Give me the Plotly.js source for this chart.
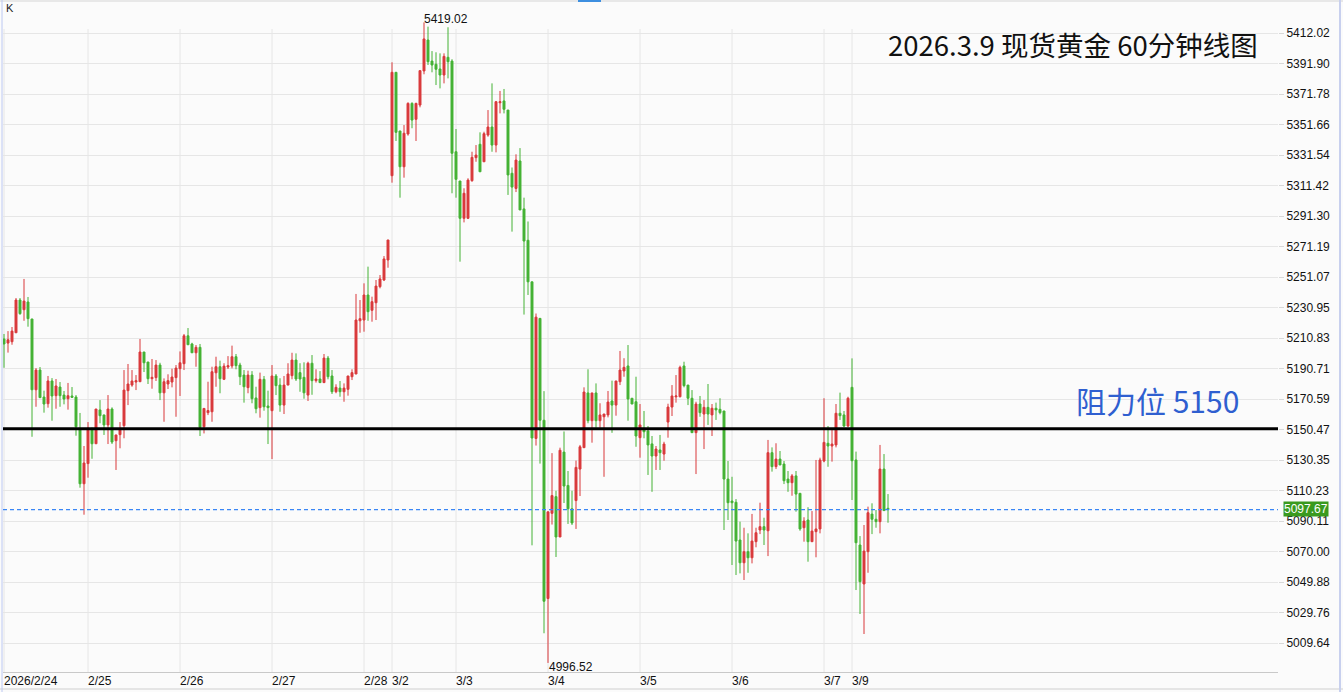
<!DOCTYPE html>
<html><head><meta charset="utf-8">
<script src="https://cdn.plot.ly/plotly-3.0.1.min.js"></script>
<style>html,body{margin:0;padding:0;background:#fbfbfb;}#chart{width:1343px;height:692px;}</style>
</head><body><div id="chart"></div>
<script>
// Hourly candles, 2026/2/24 – 2026/3/9
const openP = [5210.2,5207.5,5208.4,5214.3,5235.9,5229.5,5234.6,5223.4,5176.7,5189.7,5171.9,5167.5,5182.5,5172.8,5178.5,5173.2,5170.8,5172.6,5171.9,5150.2,5114.7,5128.0,5151.3,5141.1,5163.4,5160.1,5153.5,5164.0,5143.1,5147.1,5153.0,5176.1,5179.8,5181.8,5182.0,5201.6,5195.0,5184.0,5184.7,5193.0,5174.7,5180.5,5181.8,5184.7,5190.6,5193.9,5212.3,5206.9,5201.1,5204.7,5152.3,5161.6,5162.2,5187.9,5191.9,5183.6,5191.7,5192.4,5198.5,5193.0,5186.4,5178.1,5186.4,5171.3,5164.9,5183.6,5166.0,5162.9,5185.8,5179.8,5166.6,5179.8,5186.0,5196.3,5188.0,5184.9,5173.2,5194.2,5182.7,5183.8,5181.4,5197.6,5185.8,5175.4,5177.8,5175.4,5177.0,5185.3,5187.1,5222.2,5222.7,5239.2,5229.1,5234.1,5244.7,5249.1,5262.3,5317.9,5386.1,5347.4,5323.8,5345.4,5365.6,5355.1,5364.5,5387.0,5407.4,5393.5,5391.4,5388.3,5384.3,5396.0,5393.5,5333.7,5314.4,5289.8,5289.8,5314.6,5329.8,5338.6,5327.1,5344.7,5350.0,5338.1,5366.0,5367.2,5361.2,5319.5,5309.5,5327.6,5296.0,5275.3,5247.9,5144.6,5223.8,5156.6,5039.0,5095.2,5106.2,5079.6,5135.6,5113.6,5098.2,5103.6,5124.4,5138.5,5174.6,5156.3,5174.6,5156.3,5158.9,5160.1,5169.3,5166.6,5182.0,5189.1,5192.4,5171.1,5168.8,5145.1,5150.6,5149.5,5141.0,5133.0,5137.0,5134.3,5155.4,5165.3,5172.0,5172.1,5192.4,5179.8,5171.1,5148.4,5167.3,5160.7,5165.1,5160.1,5164.5,5163.8,5162.7,5117.8,5103.3,5102.5,5077.6,5062.6,5069.9,5065.9,5076.5,5084.2,5086.4,5083.7,5135.2,5126.0,5131.0,5127.7,5117.8,5115.4,5119.9,5108.4,5085.7,5090.8,5076.5,5083.1,5084.9,5129.7,5141.4,5139.6,5140.3,5161.2,5160.1,5152.8,5178.3,5130.4,5074.3,5048.6,5069.9,5094.7,5091.3,5089.7,5124.4,5098.5];
const highP = [5213.5,5215.4,5218.1,5237.2,5237.2,5249.8,5237.9,5223.4,5191.0,5191.7,5176.1,5185.8,5184.4,5183.8,5181.8,5175.9,5181.2,5178.5,5173.2,5161.4,5139.6,5155.4,5151.3,5164.0,5169.9,5160.1,5173.2,5165.1,5146.9,5155.4,5189.7,5193.7,5189.7,5186.4,5210.2,5201.6,5195.0,5197.0,5196.3,5194.5,5184.2,5186.9,5190.6,5193.0,5202.0,5213.5,5217.4,5207.7,5206.2,5206.9,5164.4,5182.0,5191.9,5198.5,5195.9,5194.2,5198.9,5205.8,5200.3,5194.5,5189.7,5189.3,5189.0,5178.7,5188.0,5185.8,5176.1,5193.0,5187.1,5184.3,5185.8,5194.2,5201.1,5200.7,5194.2,5194.8,5195.2,5199.6,5190.2,5189.0,5200.3,5199.0,5189.7,5180.3,5182.5,5180.9,5185.8,5190.2,5239.9,5235.9,5246.9,5257.9,5238.1,5249.1,5252.4,5264.9,5275.5,5392.7,5386.1,5347.4,5351.3,5366.3,5366.3,5366.0,5387.2,5419.02,5416.2,5400.1,5399.3,5398.6,5398.6,5415.8,5394.7,5348.7,5314.4,5309.6,5316.2,5333.7,5338.1,5346.5,5346.9,5361.2,5378.8,5367.2,5373.8,5375.1,5361.2,5323.3,5332.0,5336.1,5303.4,5287.7,5247.9,5227.0,5223.8,5175.8,5096.2,5134.9,5110.1,5138.5,5149.2,5123.1,5110.1,5130.0,5140.3,5178.3,5190.2,5174.6,5180.9,5167.8,5160.7,5175.9,5182.7,5182.5,5202.3,5197.5,5206.2,5171.1,5185.3,5167.3,5162.7,5152.8,5146.2,5139.6,5146.9,5142.4,5167.5,5179.8,5186.4,5192.6,5195.2,5179.8,5176.5,5168.8,5172.6,5169.9,5180.5,5167.3,5168.2,5171.1,5162.7,5129.7,5119.3,5104.6,5089.7,5085.7,5082.0,5094.8,5085.7,5102.2,5092.3,5143.6,5138.7,5141.4,5136.3,5129.7,5123.1,5121.1,5123.1,5108.4,5092.6,5099.2,5096.7,5130.4,5131.9,5171.1,5152.8,5151.0,5167.3,5174.8,5162.7,5172.1,5197.4,5135.9,5080.2,5087.5,5099.6,5101.8,5097.4,5140.3,5134.3,5107.9];
const lowP = [5191.2,5201.2,5206.4,5214.3,5226.2,5222.2,5218.3,5145.7,5165.5,5171.5,5161.6,5164.9,5156.3,5164.2,5165.5,5167.1,5163.6,5171.3,5146.4,5112.1,5094.3,5118.7,5131.2,5141.1,5154.6,5146.9,5140.9,5140.9,5123.8,5138.1,5144.7,5166.6,5178.7,5176.5,5182.0,5188.4,5180.5,5177.4,5182.5,5169.9,5155.6,5177.2,5178.3,5158.9,5172.6,5189.7,5206.4,5201.1,5191.9,5146.2,5147.9,5160.0,5155.6,5178.7,5174.4,5183.1,5190.4,5190.8,5190.2,5179.8,5168.2,5174.4,5167.8,5161.2,5158.3,5162.9,5140.9,5131.0,5173.2,5162.2,5160.7,5179.8,5183.6,5182.5,5175.4,5170.8,5169.3,5173.4,5181.4,5181.4,5181.4,5183.6,5173.9,5174.4,5172.1,5168.8,5172.8,5183.1,5187.1,5214.3,5215.0,5222.2,5221.6,5222.7,5243.6,5248.4,5257.2,5313.3,5340.8,5303.4,5316.6,5344.3,5349.2,5340.8,5363.0,5384.8,5390.9,5386.1,5377.7,5375.5,5378.8,5382.1,5306.3,5303.4,5261.2,5287.1,5289.3,5313.9,5327.1,5320.5,5327.1,5343.6,5333.7,5333.3,5359.0,5359.0,5305.2,5281.0,5307.1,5295.3,5226.3,5239.2,5074.1,5139.9,5128.0,5016.1,4996.52,5087.8,5066.4,5079.6,5102.0,5088.2,5087.5,5084.9,5106.6,5138.5,5154.6,5141.8,5151.7,5151.7,5119.3,5158.5,5148.3,5159.6,5179.8,5185.3,5156.3,5167.3,5139.1,5131.9,5144.7,5120.5,5109.4,5123.8,5123.8,5129.9,5145.1,5159.4,5168.2,5171.7,5178.3,5166.6,5148.4,5121.1,5158.9,5137.6,5153.5,5146.2,5156.8,5160.5,5084.2,5090.8,5061.1,5054.5,5055.6,5051.2,5056.0,5062.2,5072.8,5081.5,5074.3,5067.0,5122.7,5124.4,5127.1,5114.5,5109.4,5106.8,5096.3,5083.7,5076.5,5063.3,5076.5,5066.2,5082.0,5128.9,5125.9,5129.3,5138.7,5156.8,5152.0,5152.0,5104.0,5044.6,5028.8,5015.6,5056.0,5081.5,5085.7,5082.0,5097.0,5089.0];
const closeP = [5206.9,5209.7,5215.4,5235.9,5226.9,5235.2,5223.6,5176.7,5189.7,5171.5,5167.3,5182.5,5172.6,5179.2,5172.8,5170.6,5172.8,5171.7,5152.3,5114.7,5128.4,5151.3,5141.1,5164.0,5159.6,5153.5,5164.0,5142.2,5146.9,5150.2,5176.5,5180.5,5182.5,5182.7,5201.6,5194.5,5184.0,5184.9,5193.0,5174.7,5182.0,5182.7,5185.1,5191.0,5194.5,5212.3,5206.4,5201.1,5204.7,5151.9,5164.4,5163.0,5188.6,5191.9,5184.0,5192.3,5192.6,5198.5,5192.6,5185.3,5178.7,5186.4,5170.8,5164.2,5183.6,5165.5,5164.9,5185.8,5179.4,5166.6,5179.8,5187.1,5196.3,5183.8,5183.8,5174.7,5194.2,5182.7,5183.8,5181.4,5197.6,5185.3,5175.4,5178.3,5175.4,5177.8,5185.8,5188.0,5222.7,5223.6,5239.2,5228.2,5234.8,5245.1,5249.8,5263.0,5275.5,5386.1,5346.5,5323.8,5345.9,5365.6,5354.6,5365.6,5387.2,5408.1,5393.1,5390.9,5388.1,5384.3,5396.6,5393.1,5332.7,5315.5,5289.8,5306.3,5315.0,5330.0,5331.5,5320.5,5345.6,5350.0,5338.1,5366.7,5366.7,5361.7,5318.4,5310.4,5328.2,5295.3,5274.8,5247.9,5144.9,5224.6,5156.6,5037.2,5096.2,5106.9,5079.6,5136.8,5113.2,5098.2,5088.8,5125.5,5139.1,5175.2,5156.3,5174.6,5156.3,5160.1,5160.7,5168.6,5166.6,5182.5,5189.7,5191.5,5170.6,5167.3,5146.2,5153.5,5149.0,5140.3,5133.0,5137.6,5135.2,5140.9,5165.3,5172.6,5172.6,5191.5,5179.4,5171.1,5148.4,5167.3,5161.6,5165.1,5160.7,5164.5,5163.4,5161.6,5117.8,5102.2,5102.2,5076.9,5062.6,5069.9,5065.9,5076.9,5082.4,5086.4,5084.2,5135.2,5126.0,5131.0,5127.1,5116.7,5115.4,5119.9,5107.9,5084.9,5090.1,5076.5,5083.5,5084.9,5130.4,5142.0,5139.6,5140.9,5161.2,5159.6,5152.8,5171.1,5129.9,5075.8,5050.1,5070.3,5095.6,5091.3,5089.7,5124.4,5097.0,5097.67];

const dayLabels = ['2026/2/24','2/25','2/26','2/27','2/28','3/2','3/3','3/4','3/5','3/6','3/7','3/9'];
const dayStart = [0,21,44,67,90,97,113,136,159,182,205,212];
const yTickVals = [5412.02,5391.90,5371.78,5351.66,5331.54,5311.42,5291.30,5271.19,5251.07,5230.95,5210.83,5190.71,5170.59,5150.47,5130.35,5110.23,5090.11,5070.00,5049.88,5029.76,5009.64];
const resistance = 5151;
const lastPrice = 5097.67;
const maxLabel = {idx:105, value:5419.02};
const minLabel = {idx:136, value:4996.52};
const titleText = '2026.3.9 现货黄金 60分钟线图';
const resistText = '阻力位 5150';

const xIdx = openP.map((_, i) => i);
const RED = '#d9393b', GREEN = '#44b234';

const trace = {
  type: 'candlestick', x: xIdx, open: openP, high: highP, low: lowP, close: closeP,
  increasing: {line: {color: RED, width: 1}, fillcolor: RED},
  decreasing: {line: {color: GREEN, width: 1}, fillcolor: GREEN},
  whiskerwidth: 0, hoverinfo: 'skip', showlegend: false
};

const PLOT_TOP = 1, PLOT_BOTTOM = 672, PLOT_H = PLOT_BOTTOM - PLOT_TOP;
const py = y => (PLOT_BOTTOM - y) / PLOT_H; // pixel -> paper y
const px = x => (x - 3) / 1275;

const shapes = [];
dayStart.forEach(d => shapes.push({type:'line', xref:'x', yref:'paper', x0:d, x1:d, y0:0, y1:py(29), line:{color:'#e6e6e6', width:1}, layer:'below'}));
shapes.push({type:'line', xref:'paper', yref:'y', x0:0, x1:1, y0:lastPrice, y1:lastPrice, line:{color:'#3a86f5', width:1.3, dash:'4px,3px'}, layer:'above'});
shapes.push({type:'line', xref:'paper', yref:'y', x0:0, x1:1, y0:resistance, y1:resistance, line:{color:'#000', width:3}});
shapes.push({type:'line', xref:'paper', yref:'paper', x0:px(0), x1:px(1343), y0:py(689), y1:py(689), line:{color:'#cfcfcf', width:1}});
shapes.push({type:'line', xref:'paper', yref:'paper', x0:px(0), x1:px(1343), y0:py(1), y1:py(1), line:{color:'#d5d5d5', width:1}});
shapes.push({type:'line', xref:'paper', yref:'paper', x0:px(2), x1:px(2), y0:py(0), y1:py(692), line:{color:'#bcc8f2', width:1}});
shapes.push({type:'line', xref:'paper', yref:'paper', x0:px(1340), x1:px(1340), y0:py(0), y1:py(692), line:{color:'#c8d0ee', width:2}});
shapes.push({type:'rect', xref:'paper', yref:'paper', x0:px(578), x1:px(601), y0:py(0), y1:py(2), line:{width:0}, fillcolor:'#3d8fe0'});

const annotations = [];
dayStart.forEach((d, k) => annotations.push({xref:'x', yref:'paper', x:d, y:py(681), text:dayLabels[k], showarrow:false, xanchor:'left', yanchor:'middle', xshift:-2, font:{family:'Liberation Sans, Arial', size:12, color:'#111'}}));
annotations.push({xref:'x', yref:'y', x:maxLabel.idx, y:maxLabel.value, text:maxLabel.value.toFixed(2), showarrow:false, xanchor:'left', yanchor:'middle', xshift:-2, yshift:3, font:{family:'Liberation Sans, Arial', size:12, color:'#111'}});
annotations.push({xref:'x', yref:'y', x:minLabel.idx, y:minLabel.value, text:minLabel.value.toFixed(2), showarrow:false, xanchor:'left', yanchor:'middle', xshift:-1, yshift:-4, font:{family:'Liberation Sans, Arial', size:12, color:'#111'}});
annotations.push({xref:'paper', yref:'paper', x:px(886), y:py(44), text:titleText, showarrow:false, xanchor:'left', yanchor:'middle', font:{family:'Noto Sans CJK SC, Noto Sans', size:27.5, color:'#111'}});
annotations.push({xref:'paper', yref:'paper', x:px(1074), y:py(400), text:resistText, showarrow:false, xanchor:'left', yanchor:'middle', font:{family:'Noto Sans CJK SC, Noto Sans', size:30, color:'#2f5fd0'}});
annotations.push({xref:'paper', yref:'y', x:px(1283), y:lastPrice, text:lastPrice.toFixed(2), showarrow:false, xanchor:'left', yanchor:'middle', yshift:1, bgcolor:'#3a9a1e', borderpad:0, font:{family:'Liberation Sans, Arial', size:12, color:'#ffffff'}});
annotations.push({xref:'paper', yref:'paper', x:px(4), y:py(8), text:'K', showarrow:false, xanchor:'left', yanchor:'middle', font:{family:'Liberation Sans, Arial', size:11, color:'#222'}});

const layout = {
  width: 1343, height: 692,
  margin: {l:3, r:65, t:PLOT_TOP, b:692-PLOT_BOTTOM, pad:0},
  paper_bgcolor: '#fbfbfb', plot_bgcolor: '#fbfbfb',
  showlegend: false,
  xaxis: {range:[-0.25, 318.5], showgrid:false, zeroline:false, showticklabels:false, ticks:'', showline:true, linecolor:'#c9c9c9', linewidth:1, rangeslider:{visible:false}, fixedrange:true},
  yaxis: {side:'right', range:[4990.54, 5433.13], tickvals:yTickVals, tickformat:'.2f', showgrid:true, gridcolor:'#e6e6e6', gridwidth:1, zeroline:false, ticks:'outside', ticklen:5, tickcolor:'#d8d8d8', tickfont:{family:'Liberation Sans, Arial', size:12, color:'#111'}, showline:false, fixedrange:true},
  shapes: shapes, annotations: annotations
};

Plotly.newPlot('chart', [trace], layout, {displayModeBar:false, staticPlot:true});
</script></body></html>
